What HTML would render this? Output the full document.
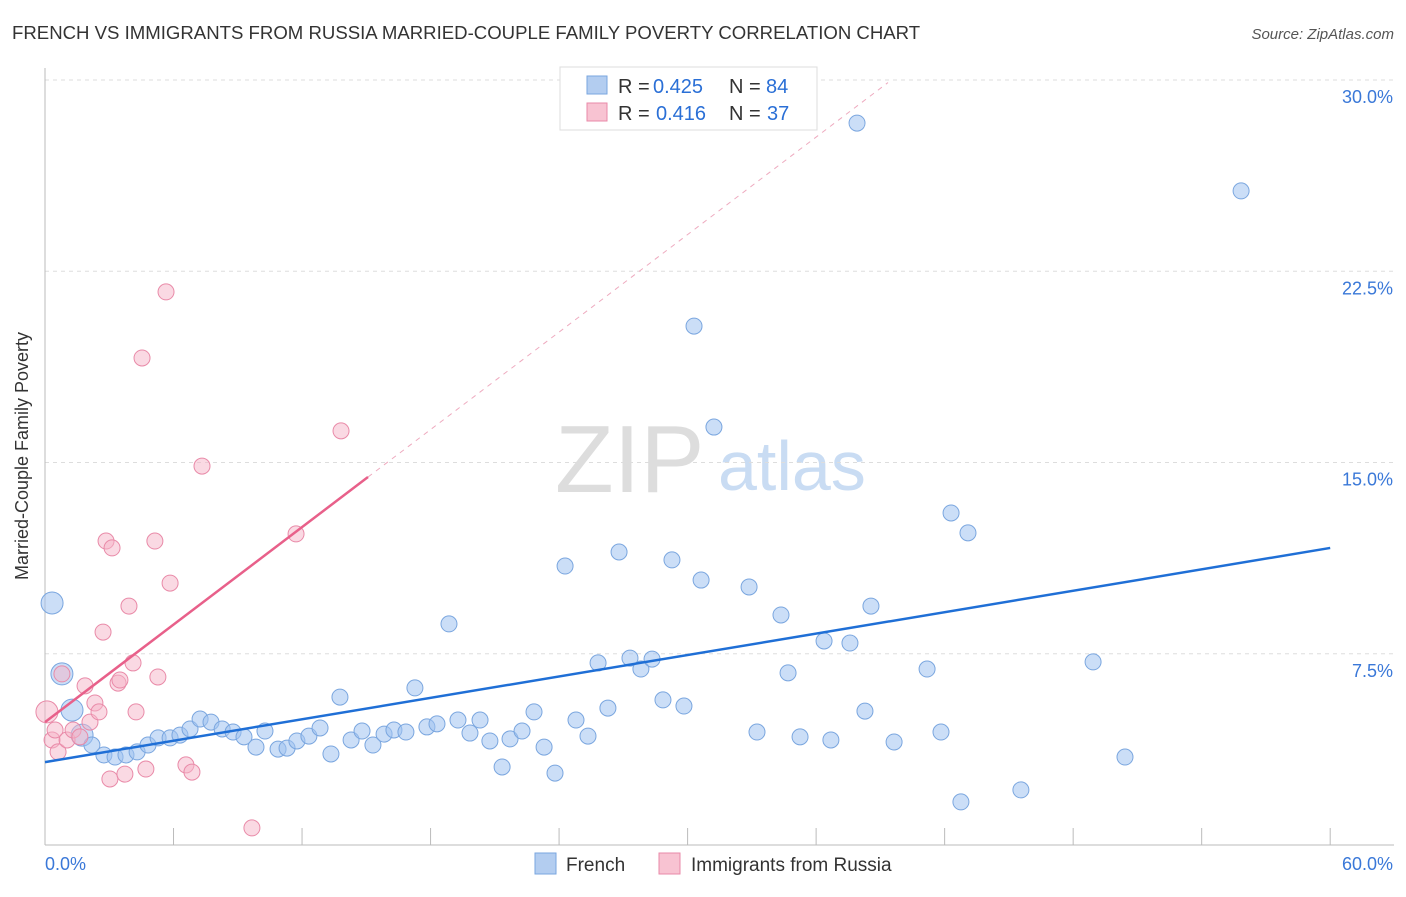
<!DOCTYPE html>
<html><head><meta charset="utf-8"><style>
body{margin:0;background:#fff;font-family:"Liberation Sans",sans-serif;}
svg text{font-family:"Liberation Sans",sans-serif;}
</style></head><body>
<svg id="chart" width="1406" height="892" viewBox="0 0 1406 892" xmlns="http://www.w3.org/2000/svg">
<text x="12" y="39" font-size="18.6" fill="#333">FRENCH VS IMMIGRANTS FROM RUSSIA MARRIED-COUPLE FAMILY POVERTY CORRELATION CHART</text>
<text x="1394" y="39" font-size="15" fill="#555" font-style="italic" text-anchor="end">Source: ZipAtlas.com</text>
<g>
<text x="555" y="492" font-size="96" fill="#ddd" font-family="Liberation Serif">ZIP</text>
<text x="718" y="490" font-size="70" fill="#c9dcf3">atlas</text>
</g>
<g id="grid"></g><g id="axes"></g><g id="trend"></g><g id="points"></g>
<text x="28" y="456" font-size="18" fill="#333" text-anchor="middle" transform="rotate(-90 28 456)">Married-Couple Family Poverty</text>
<g>
<rect x="560" y="67" width="257" height="63" fill="#fff" stroke="#ddd"/>
<rect x="587" y="76" width="20" height="18" fill="#b3cdf0" stroke="#7aa6df"/>
<rect x="587" y="103" width="20" height="18" fill="#f8c3d2" stroke="#e98aa8"/>
<g font-size="20">
<text x="618" y="93" fill="#333">R =</text><text x="653" y="93" fill="#2a6fd6">0.425</text>
<text x="729" y="93" fill="#333">N =</text><text x="766" y="93" fill="#2a6fd6">84</text></g>
<g font-size="20">
<text x="618" y="120" fill="#333">R =</text><text x="656" y="120" fill="#2a6fd6">0.416</text>
<text x="729" y="120" fill="#333">N =</text><text x="767" y="120" fill="#2a6fd6">37</text></g>
</g>
<g>
<rect x="535" y="853" width="21" height="21" fill="#b3cdf0" stroke="#7aa6df"/>
<text x="566" y="871" font-size="19" fill="#333">French</text>
<rect x="659" y="853" width="21" height="21" fill="#f8c3d2" stroke="#e98aa8"/>
<text x="691" y="871" font-size="19" fill="#333">Immigrants from Russia</text>
</g>
</svg>
<script>
const yTicks=[7.5,15,22.5,30];
const yTickLabels=["7.5%","15.0%","22.5%","30.0%"];
const xTickLabels=["0.0%","60.0%"];
const frenchX=[0.33,0.79,1.26,1.73,2.19,2.75,3.27,3.78,4.30,4.81,5.28,5.84,6.30,6.77,7.24,7.75,8.27,8.78,9.29,9.85,10.27,10.88,11.30,11.76,12.32,12.84,13.35,13.77,14.29,14.80,15.31,15.83,16.29,16.85,17.27,17.83,18.30,18.86,19.28,19.84,20.31,20.77,21.34,21.71,22.27,22.83,23.30,23.81,24.28,24.79,25.35,25.82,26.28,26.80,27.31,27.82,28.34,28.85,29.27,29.83,30.30,30.63,31.23,32.87,33.24,34.36,34.69,35.25,36.37,36.69,37.58,37.91,38.28,38.56,39.64,41.18,41.83,42.30,42.76,43.09,45.56,48.93,50.42,55.84];
const frenchY=[9.49,6.71,5.29,4.31,3.92,3.53,3.45,3.53,3.65,3.92,4.20,4.20,4.31,4.55,4.94,4.82,4.55,4.43,4.24,3.84,4.47,3.76,3.80,4.08,4.27,4.59,3.57,5.80,4.12,4.47,3.92,4.35,4.51,4.43,6.16,4.63,4.75,8.67,4.90,4.39,4.90,4.08,3.06,4.16,4.47,5.22,3.84,2.82,10.94,4.90,4.27,7.14,5.37,11.49,7.33,6.90,7.29,5.69,11.18,5.45,20.35,10.39,16.39,10.12,4.43,9.02,6.75,4.24,8.00,4.12,7.92,28.31,5.25,9.37,4.04,6.90,4.43,13.02,1.69,12.24,2.16,7.18,3.45,25.65];
const frenchBig=[1,1,1,1,0,0,0,0,0,0,0,0,0,0,0,0,0,0,0,0,0,0,0,0,0,0,0,0,0,0,0,0,0,0,0,0,0,0,0,0,0,0,0,0,0,0,0,0,0,0,0,0,0,0,0,0,0,0,0,0,0,0,0,0,0,0,0,0,0,0,0,0,0,0,0,0,0,0,0,0,0,0,0,0];
const russiaX=[0.09,0.33,0.47,0.61,0.79,1.03,1.31,1.63,1.87,2.10,2.33,2.52,2.85,3.03,3.13,3.41,3.50,3.73,3.92,2.71,4.11,4.25,4.53,4.71,5.13,5.27,5.65,5.84,6.58,6.86,7.33,9.66,11.72,13.82];
const russiaY=[5.22,4.12,4.51,3.65,6.71,4.12,4.51,4.24,6.24,4.82,5.57,5.22,11.92,2.59,11.65,6.35,6.47,2.78,9.37,8.35,7.14,5.22,19.10,2.98,11.92,6.59,21.69,10.27,3.14,2.86,14.86,0.67,12.20,16.24];
const frenchTrend=[3.25,11.65];
const russiaTrend=[4.82,14.43];
const russiaTrendEnd=15.08;
const NS="http://www.w3.org/2000/svg";
const X=v=>45+v*21.42, Y=v=>845-v*25.5;
function mk(tag,attrs,parent){const e=document.createElementNS(NS,tag);for(const k in attrs)e.setAttribute(k,attrs[k]);document.getElementById(parent).appendChild(e);return e;}
yTicks.forEach((t,i)=>{
 const g=mk('line',{x1:45,x2:1394,y1:Y(t),y2:Y(t),stroke:'#ddd','stroke-dasharray':'4,4'},'grid');
 
 
 const tx=mk('text',{x:1393,y:Y(t)+23,'font-size':18,fill:'#3a78d8','text-anchor':'end'},'grid');
 tx.textContent=yTickLabels[i];
 
 
});
const tg=mk('line',{x1:45,x2:1394,y1:80,y2:80,stroke:'#ddd','stroke-dasharray':'4,4'},'grid');


const xa=mk('line',{x1:45,x2:1394,y1:845,y2:845,stroke:'#bbb'},'axes');


const ya=mk('line',{x1:45,x2:45,y1:68,y2:845,stroke:'#bbb'},'axes');


for(let i=0;i<=10;i++){const t=mk('line',{x1:X(i*6),x2:X(i*6),y1:828,y2:845,stroke:'#bbb'},'axes');
 
 }
const xl0=mk('text',{x:45,y:870,'font-size':18,fill:'#3a78d8'},'axes');xl0.textContent=xTickLabels[0];


const xl1=mk('text',{x:1393,y:870,'font-size':18,fill:'#3a78d8','text-anchor':'end'},'axes');xl1.textContent=xTickLabels[1];


const slope=(russiaTrend[1]-russiaTrend[0])/russiaTrendEnd;
const dashEnd=(29.9-russiaTrend[0])/slope;
const rd=mk('line',{x1:X(russiaTrendEnd),y1:Y(russiaTrend[1]),x2:X(dashEnd),y2:Y(russiaTrend[0]+slope*dashEnd),stroke:'#eeaabf','stroke-dasharray':'5,5','stroke-width':1},'trend');


frenchX.forEach((x,i)=>{const c=mk('circle',{cx:X(x),cy:Y(frenchY[i]),r:frenchBig[i]?11:8,fill:'rgba(160,195,240,0.55)',stroke:'#7aa6df','stroke-width':1},'points');
 
 });
russiaX.forEach((x,i)=>{const c=mk('circle',{cx:X(x),cy:Y(russiaY[i]),r:(i==0)?11:8,fill:'rgba(246,180,200,0.5)',stroke:'#e98aa8','stroke-width':1},'points');
 
 });
const ft=mk('line',{x1:X(0),y1:Y(frenchTrend[0]),x2:X(60),y2:Y(frenchTrend[1]),stroke:'#1f6fd6','stroke-width':2.5},'points');


const rt=mk('line',{x1:X(0),y1:Y(russiaTrend[0]),x2:X(russiaTrendEnd),y2:Y(russiaTrend[1]),stroke:'#e8608a','stroke-width':2.5},'points');


</script>
</body></html>
